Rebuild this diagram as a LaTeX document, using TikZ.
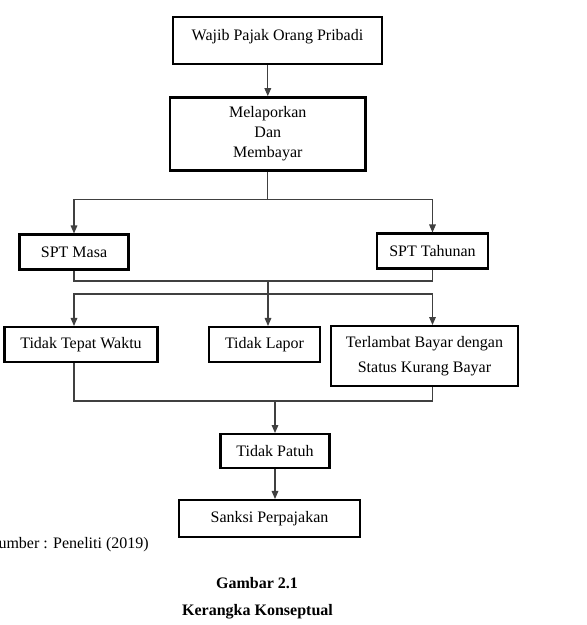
\documentclass[tikz,border=0pt]{standalone}
\usepackage{fontspec}
\setmainfont{Liberation Serif}
\usetikzlibrary{positioning}
\usetikzlibrary{arrows.meta}
\usetikzlibrary{calc}

\begin{document}
\begin{tikzpicture}[x=0.75pt,y=-0.75pt,
  font=\fontsize{12}{15}\selectfont,
  box/.style={draw, line width=1.8pt, inner sep=0pt, align=center},
  link/.style={line width=0.8pt, draw=black!75},
  arr/.style={link, -{Triangle[length=6pt,width=5pt]}}]

  \useasboundingbox (0,0) rectangle (586,625);

  % top of the frame
  \node[box, minimum width=156.5pt, minimum height=35pt, text depth=9pt]
    (wpop) at (277.5,40.5) {Wajib Pajak Orang Pribadi};
  \node[box, minimum width=146.5pt, minimum height=55pt]
    (lapor) at (267.8,134) {Melaporkan\\Dan\\Membayar};

  % kinds of SPT
  \node[box, minimum width=82pt, minimum height=26pt] (masa) at (74,252) {SPT Masa};
  \node[box, minimum width=83pt, minimum height=26pt] (tahunan) at (432.5,251) {SPT Tahunan};

  % kinds of violation
  \node[box, minimum width=115pt, minimum height=26pt] (ttw) at (81,344.5) {Tidak Tepat Waktu};
  \node[box, minimum width=83pt, minimum height=26pt] (tlapor) at (264.5,344.5) {Tidak Lapor};
  \node[box, minimum width=140pt, minimum height=44.7pt,
    font=\fontsize{12}{18.75}\selectfont]
    (tbayar) at (424.5,356) {Terlambat Bayar dengan\\Status Kurang Bayar};

  % result
  \node[box, minimum width=82pt, minimum height=25.2pt] (patuh) at (275,451) {Tidak Patuh};
  \node[box, minimum width=135.5pt, minimum height=27.5pt] (sanksi) at (269.5,518.5) {Sanksi Perpajakan};

  % caption
  \node[anchor=east, inner sep=0pt] (sumber) at (149,545) {Sumber : Peneliti (2019)};
  \node[font=\fontsize{12}{15}\selectfont\bfseries] (gambar) at (257,583) {Gambar 2.1};
  \node[font=\fontsize{12}{15}\selectfont\bfseries] (judul) at (257.5,612) {Kerangka Konseptual};

  % joints of the tree
  \coordinate (j1) at ($(lapor.south)+(0,28)$);
  \coordinate (m1) at (268,281);
  \coordinate (m2) at (268,294);
  \coordinate (m3) at ($(patuh.north)+(0,-32)$);

  % connectors
  \draw[arr] (lapor.north |- wpop.south) -- (lapor.north);
  \draw[link] (lapor.south) -- (j1);
  \draw[arr] (j1) -| (masa.north);
  \draw[arr] (j1) -| (tahunan.north);

  \draw[link] (masa.south) |- (m1) -| (tahunan.south);
  \draw[link] (m1) -- (m2);
  \draw[arr] (m2) -- (m2 |- tlapor.north);
  \draw[arr] (m2) -| (masa.south |- ttw.north);
  \draw[arr] (m2) -| (tahunan.south |- tbayar.north);

  \draw[link] (masa.south |- ttw.south) |- (m3) -| (tahunan.south |- tbayar.south);
  \draw[arr] (m3) -- (patuh.north);
  \draw[arr] (patuh.south) -- (patuh.south |- sanksi.north);

\end{tikzpicture}
\end{document}
